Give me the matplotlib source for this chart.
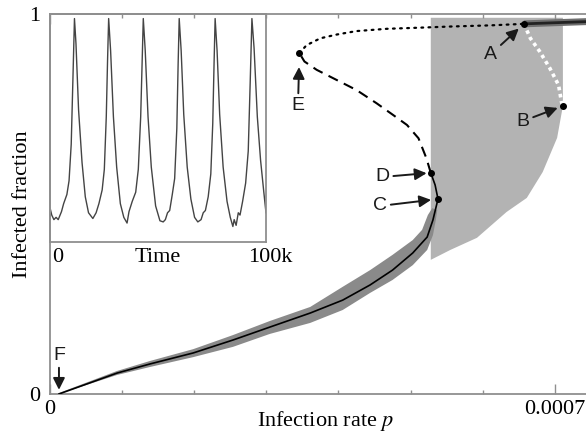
import matplotlib.pyplot as plt
from matplotlib.ticker import MultipleLocator

plt.rcParams["font.family"] = "Liberation Serif"
plt.rcParams["mathtext.fontset"] = "stix"
plt.rcParams["font.size"] = 16

# inset: infected fraction vs time (k steps)
inset_t = [0, 1, 2, 3, 4, 5.5, 6.5, 8, 9, 10, 10.8, 11.5, 12.2, 13.4, 15, 16.5, 18,
           20, 21.5, 22.8, 24.3, 25.3, 26.2, 26.8, 27.3, 28.2, 29.5, 31, 32.7, 34.3,
           35.8, 36.7, 38.2, 39.8, 41, 42.1, 42.8, 43.3, 44.2, 45.5, 47, 49, 51,
           52.5, 53.5, 54.5, 55.5, 56.7, 57.8, 58.8, 59.4, 59.9, 60.8, 62, 63.6, 65.3,
           67, 68.5, 70, 71, 72, 73.3, 74.5, 75.4, 76, 76.5, 77.4, 78.6, 80.2, 82,
           83.5, 84.7, 85.3, 86.2, 87.2, 88, 89.2, 90.6, 91.8, 92.7, 93.5, 94.5, 96,
           97.5, 99, 100]
inset_y = [0.16, 0.12, 0.10, 0.11, 0.10, 0.135, 0.17, 0.21, 0.27, 0.43, 0.72, 0.98, 0.87,
           0.58, 0.35, 0.20, 0.13,
           0.105, 0.13, 0.17, 0.23, 0.32, 0.55, 0.80, 0.98, 0.84, 0.55, 0.33, 0.17, 0.11,
           0.085, 0.135, 0.18, 0.22, 0.32, 0.55, 0.80, 0.98, 0.84, 0.55, 0.33, 0.16, 0.095,
           0.09, 0.10, 0.13, 0.14, 0.21, 0.28, 0.50, 0.78, 0.98, 0.84, 0.56, 0.33, 0.19,
           0.11, 0.09, 0.10, 0.13, 0.14, 0.20, 0.30, 0.52, 0.78, 0.98, 0.84, 0.56, 0.33, 0.18,
           0.11, 0.07, 0.10, 0.075, 0.13, 0.12, 0.18, 0.26, 0.40, 0.70, 0.98, 0.85, 0.55,
           0.36, 0.22, 0.13]

# stable lower branch F -> C
low_p = [0.000013, 0.0000934, 0.000139, 0.000199, 0.000254, 0.000305, 0.000361,
         0.000406, 0.000444, 0.000475, 0.000503, 0.000523, 0.000531, 0.000538]
low_f = [0.0, 0.055, 0.079, 0.108, 0.142, 0.176, 0.213, 0.247, 0.287, 0.326,
         0.371, 0.413, 0.458, 0.513]
# C -> D
cd_p = [0.000538, 0.000534, 0.000528]
cd_f = [0.513, 0.550, 0.582]
# unstable branch D -> E (dashed)
de_p = [0.000528, 0.000522, 0.000511, 0.000495, 0.000476, 0.000453, 0.000425,
        0.000398, 0.000370, 0.000353, 0.000346]
de_f = [0.582, 0.620, 0.673, 0.708, 0.734, 0.765, 0.800, 0.826, 0.853, 0.875, 0.897]
# branch E -> A (dotted)
ea_p = [0.000346, 0.000356, 0.000375, 0.000398, 0.000425, 0.000467, 0.000513,
        0.000555, 0.000610, 0.000657]
ea_f = [0.897, 0.918, 0.936, 0.946, 0.955, 0.961, 0.964, 0.967, 0.970, 0.974]
# branch A -> B (white dotted)
ab_p = [0.000657, 0.000666, 0.000679, 0.000693, 0.000705, 0.000709, 0.000711]
ab_f = [0.974, 0.936, 0.901, 0.857, 0.813, 0.769, 0.758]
# upper stable branch beyond A
top_p = [0.000657, 0.000700, 0.000745]
top_f = [0.974, 0.977, 0.980]

# spread of the lower branch
band_up_p = [0.000013, 0.0000934, 0.000139, 0.000199, 0.000254, 0.000305, 0.000361,
             0.000406, 0.000444, 0.000475, 0.000503, 0.000516, 0.000524, 0.000530]
band_up_f = [0.0026, 0.0605, 0.0868, 0.118, 0.155, 0.192, 0.229, 0.282, 0.326,
             0.366, 0.405, 0.432, 0.471, 0.489]
band_lo_p = [0.000013, 0.0000934, 0.000139, 0.000199, 0.000254, 0.000305, 0.000361,
             0.000406, 0.000444, 0.000475, 0.000503, 0.000523, 0.000531, 0.000535,
             0.000537]
band_lo_f = [0.0, 0.050, 0.071, 0.097, 0.124, 0.158, 0.187, 0.221, 0.266, 0.300,
             0.339, 0.379, 0.418, 0.458, 0.484]

# oscillation region
osc_p = [0.000528, 0.000528, 0.000711, 0.000711, 0.000703, 0.000683, 0.000661,
         0.000633, 0.000592, 0.000555, 0.000528]
osc_f = [0.353, 0.990, 0.990, 0.758, 0.674, 0.584, 0.516, 0.479, 0.411, 0.379, 0.353]

# labelled points
pt_names = ["A", "B", "C", "D", "E", "F"]
pt_p = [0.000657, 0.000711, 0.000538, 0.000528, 0.000346, 0.000013]
pt_f = [0.974, 0.758, 0.513, 0.582, 0.897, 0.0]

fig = plt.figure(figsize=(5.86, 4.33), dpi=100)
ax = fig.add_axes([0.0846, 0.0901, 0.9154, 0.8776])
axin = fig.add_axes([0.0846, 0.44, 0.3693, 0.5277])
ax.set_zorder(2)
ax.patch.set_alpha(0)

spine_col = "#8f8f8f"

# main plot
ax.fill(osc_p, osc_f, color="#b3b3b3", lw=0, zorder=1)
ax.fill(band_up_p + band_lo_p[::-1], band_up_f + band_lo_f[::-1],
        color="#8a8a8a", lw=0, zorder=2)
ax.plot(low_p, low_f, color="black", lw=1.2, zorder=3)
ax.plot(cd_p, cd_f, color="black", lw=1.2, zorder=3)
ax.plot(de_p, de_f, color="black", lw=1.5, linestyle=(0, (5, 3.2)), zorder=3)
ax.plot(ea_p, ea_f, color="black", lw=1.6, linestyle=(0, (0.8, 2.4)),
        dash_capstyle="round", zorder=3)
ax.plot(ab_p, ab_f, color="white", lw=2.6, linestyle=(0, (1, 1)), zorder=3)
ax.plot(top_p, top_f, color="#6e6e6e", lw=5, solid_capstyle="butt", zorder=3)
ax.plot(top_p, top_f, color="#222222", lw=2, zorder=4)
ax.plot(pt_p[:5], pt_f[:5], "o", color="black", ms=4, zorder=5)

# label text offsets (points) and arrow shrink at the target
offsets = {"A": (-24, -22), "B": (-29, -11), "C": (-42, -5),
           "D": (-35, -3), "E": (-1, -38), "F": (0, 28)}
shrinks = {"A": 5, "B": 4, "C": 5, "D": 3, "E": 10, "F": 3}
for name, p, f in zip(pt_names, pt_p, pt_f):
    ax.annotate(name, xy=(p, f), xytext=offsets[name], textcoords="offset points",
                ha="center", va="center", fontsize=14, family="Liberation Sans",
                color="#1a1a1a", zorder=6,
                arrowprops=dict(arrowstyle="-|>,head_length=0.5,head_width=0.25",
                                color="#1a1a1a", lw=1.4, shrinkA=1,
                                shrinkB=shrinks[name]))

ax.set_xlim(0, 0.000743)
ax.set_ylim(0, 1)
ax.set_xticks([0, 0.0007], ["0", "0.0007"])
ax.xaxis.set_minor_locator(MultipleLocator(0.0001))
ax.set_yticks([0, 1], ["0", "1"])
ax.tick_params(axis="x", which="both", direction="in", top=True, colors=spine_col,
               labelcolor="black", pad=4)
ax.tick_params(axis="x", which="major", length=7, width=1)
ax.tick_params(axis="x", which="minor", length=3, width=1)
ax.tick_params(axis="y", length=0, pad=7)
for side in ["left", "bottom", "top"]:
    ax.spines[side].set_color(spine_col)
    ax.spines[side].set_linewidth(1.3)
ax.spines["right"].set_visible(False)
ax.set_xlabel("Infection rate $p$", x=0.515, labelpad=-7)
ax.set_ylabel("Infected fraction", labelpad=-2)

# inset
axin.plot(inset_t, inset_y, color="#444444", lw=1.0)
axin.set_xlim(0, 100)
axin.set_ylim(0, 1.0)
axin.set_xticks([])
axin.set_yticks([])
for sp in axin.spines.values():
    sp.set_color(spine_col)
    sp.set_linewidth(1.3)
axin.text(0.012, -0.025, "0", transform=axin.transAxes, ha="left", va="top")
axin.text(0.5, -0.025, "Time", transform=axin.transAxes, ha="center", va="top")
axin.text(1.02, -0.025, "100k", transform=axin.transAxes, ha="center", va="top")

fig.savefig("out.png", dpi=100)
